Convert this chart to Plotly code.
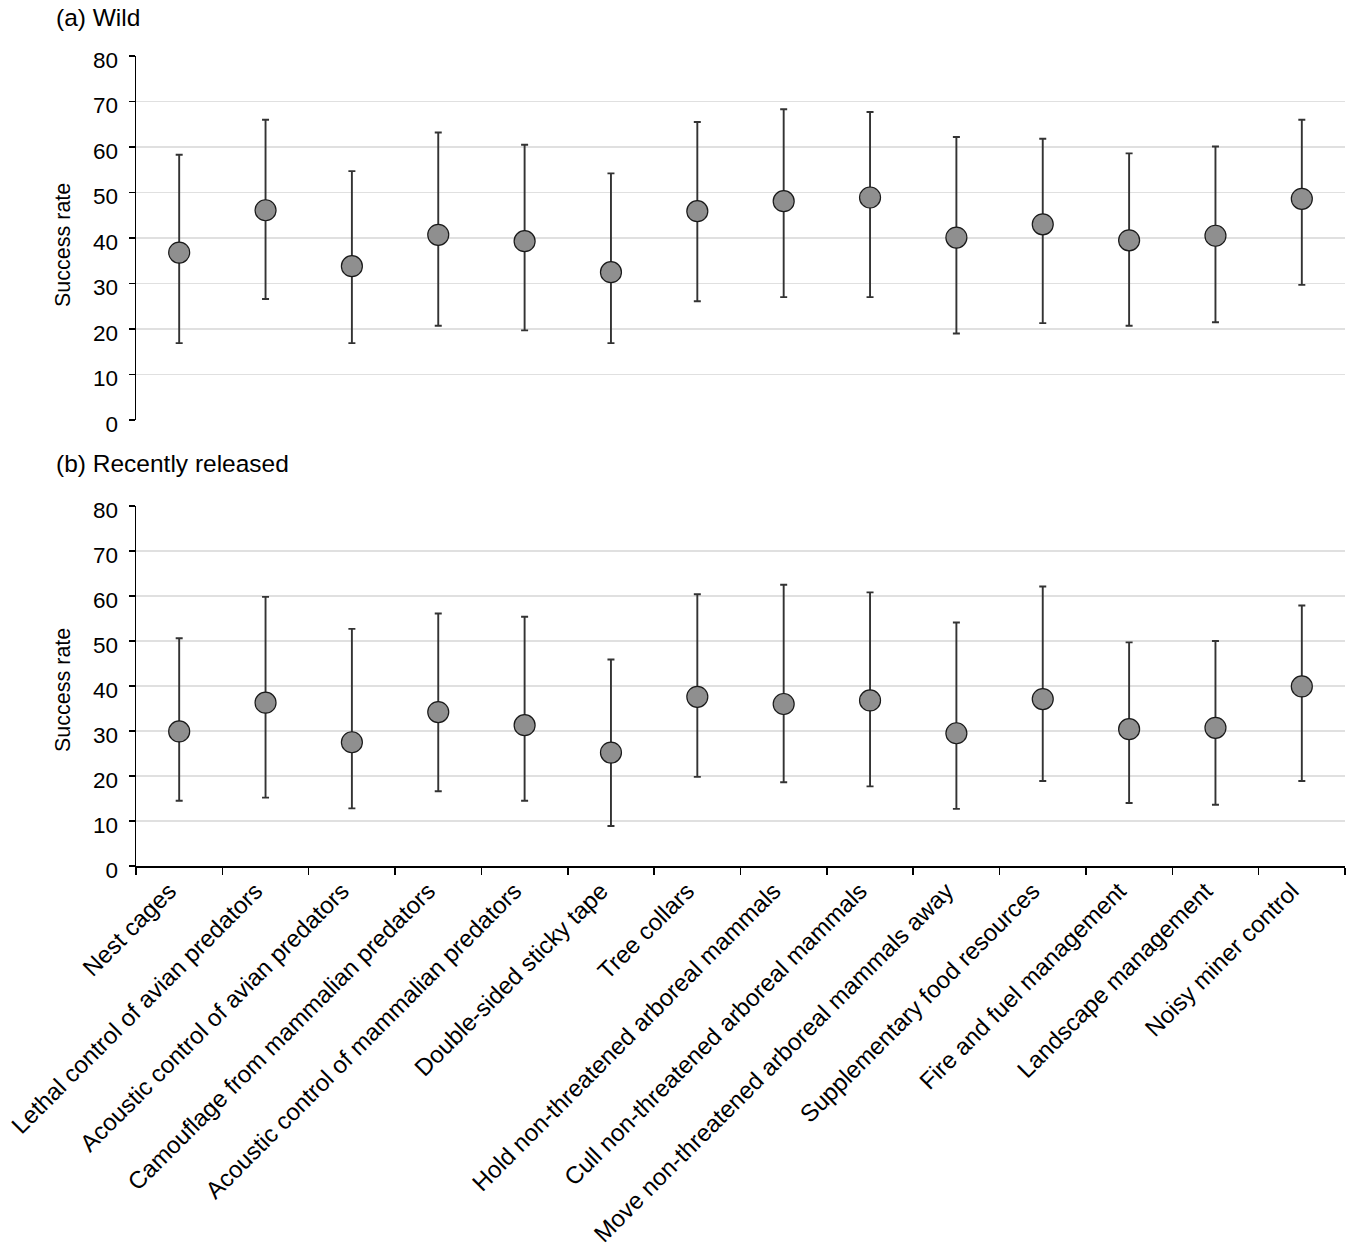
import plotly.graph_objects as go
from plotly.subplots import make_subplots

categories = [
    "Nest cages",
    "Lethal control of avian predators",
    "Acoustic control of avian predators",
    "Camouflage from mammalian predators",
    "Acoustic control of mammalian predators",
    "Double-sided sticky tape",
    "Tree collars",
    "Hold non-threatened arboreal mammals",
    "Cull non-threatened arboreal mammals",
    "Move non-threatened arboreal mammals away",
    "Supplementary food resources",
    "Fire and fuel management",
    "Landscape management",
    "Noisy miner control",
]

wild_mean = [36.8, 46.1, 33.8, 40.7, 39.3, 32.5, 45.9, 48.1, 48.9, 40.1, 43.0, 39.5, 40.5, 48.6]
wild_upper = [58.3, 66.0, 54.7, 63.2, 60.5, 54.2, 65.5, 68.3, 67.7, 62.2, 61.8, 58.6, 60.1, 66.0]
wild_lower = [16.9, 26.6, 16.9, 20.7, 19.7, 16.9, 26.1, 27.0, 27.0, 19.0, 21.3, 20.7, 21.5, 29.7]

rel_mean = [29.9, 36.3, 27.5, 34.2, 31.3, 25.2, 37.6, 36.0, 36.8, 29.5, 37.1, 30.4, 30.7, 39.9]
rel_upper = [50.6, 59.8, 52.7, 56.1, 55.4, 45.9, 60.4, 62.5, 60.8, 54.1, 62.1, 49.7, 50.0, 57.9]
rel_lower = [14.5, 15.2, 12.8, 16.6, 14.5, 8.9, 19.8, 18.6, 17.7, 12.7, 18.9, 14.0, 13.6, 18.9]

y_ticks = [0, 10, 20, 30, 40, 50, 60, 70, 80]

panel_titles = ["(a) Wild", "(b) Recently released"]
y_title = "Success rate"

FONT = "Arial, Liberation Sans, sans-serif"

W, H = 1350, 1256
ml, mr, mt, mb = 136, 5, 56, 390
pw = W - ml - mr
ph = H - mt - mb
top_dom = [1 - (420 - 56) / ph, 1]
bot_dom = [0, (866 - 506) / ph]


def px_x(x):
    return (x - ml) / pw


def px_y(y):
    return 1 - (y - mt) / ph


fig = make_subplots(rows=2, cols=1, shared_xaxes=False)


def add_panel(mean, upper, lower, row):
    plus = [u - m for u, m in zip(upper, mean)]
    minus = [m - l for m, l in zip(mean, lower)]
    fig.add_trace(
        go.Scatter(
            x=categories,
            y=mean,
            mode="markers",
            marker=dict(size=21, color="#8f8f8f", line=dict(color="#1a1a1a", width=1.2)),
            error_y=dict(
                type="data",
                symmetric=False,
                array=plus,
                arrayminus=minus,
                color="#333333",
                thickness=1.9,
                width=3.5,
            ),
            showlegend=False,
            hoverinfo="skip",
        ),
        row=row,
        col=1,
    )


add_panel(wild_mean, wild_upper, wild_lower, 1)
add_panel(rel_mean, rel_upper, rel_lower, 2)

yax = dict(
    range=[0, 80],
    tickvals=y_ticks,
    showline=True,
    linecolor="black",
    linewidth=1.5,
    ticks="outside",
    ticklen=6,
    tickwidth=1.5,
    tickcolor="black",
    showgrid=True,
    gridcolor="#e0e0e0",
    gridwidth=1.2,
    zeroline=False,
    ticklabelstandoff=6,
    ticklabelshift=4,
    tickfont=dict(family=FONT, size=22.5, color="black"),
)

fig.update_yaxes(**yax, row=1, col=1)
fig.update_yaxes(**yax, row=2, col=1)

fig.update_xaxes(
    range=[-0.5, 13.5],
    showline=False,
    showticklabels=False,
    ticks="",
    showgrid=False,
    zeroline=False,
    row=1,
    col=1,
)
fig.update_xaxes(
    range=[-0.5, 13.5],
    showline=True,
    linecolor="black",
    linewidth=1.5,
    ticks="outside",
    tickson="boundaries",
    ticklen=7,
    tickwidth=1.5,
    tickcolor="black",
    showgrid=False,
    zeroline=False,
    tickangle=-45,
    ticklabelshift=-10,
    tickfont=dict(family=FONT, size=24, color="black"),
    row=2,
    col=1,
)

ann_font = dict(family=FONT, size=24.5, color="black")
yt_font = dict(family=FONT, size=21.5, color="black")

fig.update_layout(
    width=W,
    height=H,
    margin=dict(l=ml, r=mr, t=mt, b=mb, autoexpand=False),
    plot_bgcolor="white",
    paper_bgcolor="white",
    font=dict(family=FONT, color="black"),
    hovermode=False,
    yaxis=dict(domain=top_dom),
    yaxis2=dict(domain=bot_dom),
    annotations=[
        dict(text=panel_titles[0], xref="paper", yref="paper",
             x=px_x(54), y=px_y(17), xanchor="left", yanchor="middle",
             showarrow=False, font=ann_font),
        dict(text=panel_titles[1], xref="paper", yref="paper",
             x=px_x(54), y=px_y(463), xanchor="left", yanchor="middle",
             showarrow=False, font=ann_font),
        dict(text=y_title, xref="paper", yref="paper", textangle=-90,
             x=px_x(63), y=px_y(245), xanchor="center", yanchor="middle",
             showarrow=False, font=yt_font),
        dict(text=y_title, xref="paper", yref="paper", textangle=-90,
             x=px_x(63), y=px_y(690), xanchor="center", yanchor="middle",
             showarrow=False, font=yt_font),
    ],
)

fig.write_html(
    "out.html",
    config={"displayModeBar": False, "staticPlot": True},
    post_script="document.body.style.margin='0';",
)
